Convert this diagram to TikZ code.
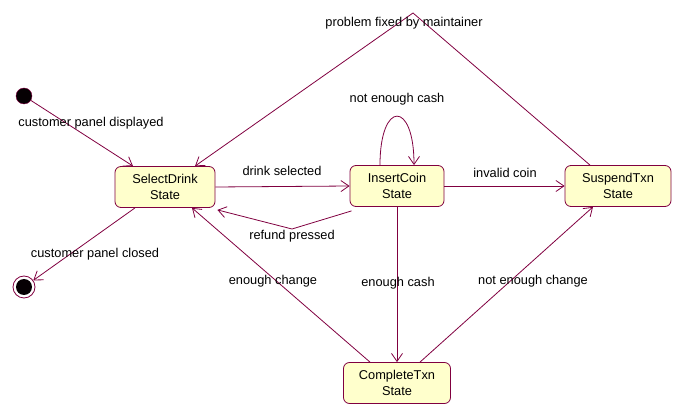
\documentclass[tikz,border=0pt]{standalone}
\usepackage{fontspec}
\setmainfont{Liberation Sans}
\usetikzlibrary{shapes,arrows.meta,positioning}
\definecolor{wine}{RGB}{128,0,64}
\definecolor{cream}{RGB}{255,255,204}
\tikzstyle{statebox} = [draw=wine,fill=cream,rectangle,rounded corners=6pt,align=center,minimum width=100pt,minimum height=41pt,inner sep=0,line width=0.8pt,font=\fontsize{12.8}{15.5}\selectfont]
\tikzstyle{trans} = [draw=wine,line width=0.8pt,-{Straight Barb[length=8pt,width=11pt]}]
\tikzstyle{lbl} = [inner sep=0,font=\fontsize{12.8}{15}\selectfont]
\tikzstyle{startdot} = [draw=wine,fill=black!95!wine,circle,inner sep=0,minimum size=16pt]
\tikzstyle{enddot} = [draw=wine,fill=white,circle,inner sep=0,minimum size=22pt,line width=0.8pt]

\begin{document}
\begin{tikzpicture}[x=1pt,y=-1pt]
      \useasboundingbox (0,0) rectangle (683,411);
      % states
      \node[startdot] (init) at (24,96) {};
      \node[enddot] (final) at (24,287) {};
      \fill[black!95!wine] (final) circle (8pt);
      \node[statebox] (select) at (165,187) {SelectDrink\\State};
      \node[statebox,minimum width=94pt] (insert) at (397,186) {InsertCoin\\State};
      \node[statebox,minimum width=106pt] (suspend) at (618,186) {SuspendTxn\\State};
      \node[statebox,minimum width=107pt] (complete) at (397,383) {CompleteTxn\\State};
      % transitions
      \draw[trans] (init) -- ([xshift=-32pt]select.north);
      \draw[trans] ([xshift=-30pt]select.south) -- (final);
      \draw[trans] (select.east) -- (insert.west);
      \draw[trans] ([xshift=2pt,yshift=-4pt]insert.south west) -- (292,229) -- ([xshift=2pt,yshift=-2pt]select.south east);
      \draw[trans] ([xshift=-17pt]insert.north) .. controls (380,100) and (414,100) .. ([xshift=17pt]insert.north);
      \draw[trans] (insert.east) -- (suspend.west);
      \draw[trans] ([xshift=-28pt]suspend.north) -- (413,13) -- ([xshift=30pt]select.north);
      \draw[trans] (insert.south) -- (complete.north);
      \draw[trans] ([xshift=-27pt]complete.north) -- ([xshift=27pt]select.south);
      \draw[trans] ([xshift=23pt]complete.north) -- ([xshift=-25pt]suspend.south);
      % labels
      \node[lbl] (lDisplayed) at (91,123) {customer panel displayed};
      \node[lbl] (lClosed) at (95,254) {customer panel closed};
      \node[lbl] (lDrink) at (282,171) {drink selected};
      \node[lbl] (lRefund) at (292,236) {refund pressed};
      \node[lbl] (lNoCash) at (397,99) {not enough cash};
      \node[lbl] (lInvalid) at (505,173) {invalid coin};
      \node[lbl] (lFixed) at (404,23) {problem fixed by maintainer};
      \node[lbl] (lChange) at (273,281) {enough change};
      \node[lbl] (lCash) at (398,283) {enough cash};
      \node[lbl] (lNoChange) at (533,281) {not enough change};
\end{tikzpicture}
\end{document}
